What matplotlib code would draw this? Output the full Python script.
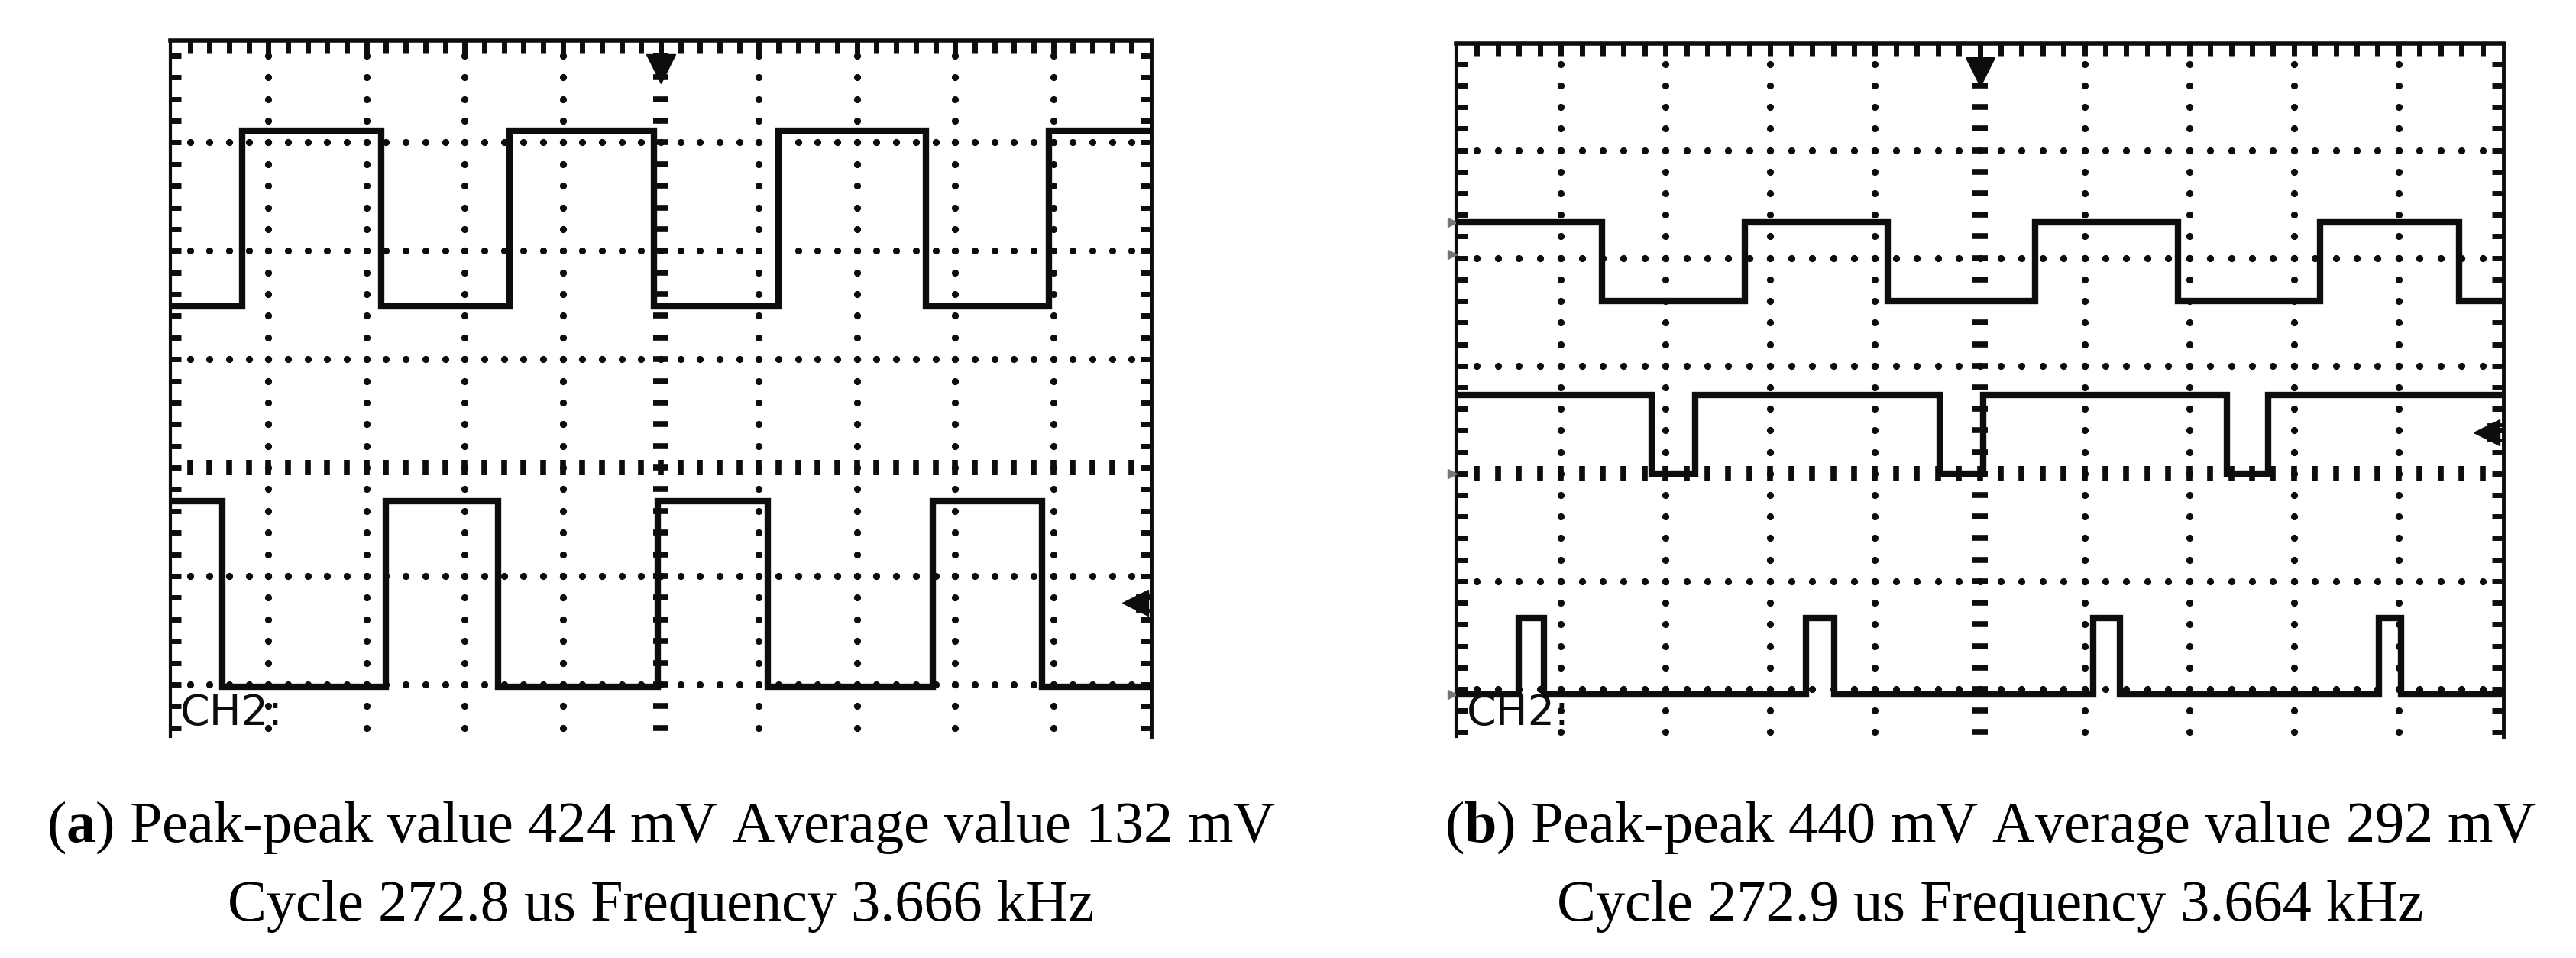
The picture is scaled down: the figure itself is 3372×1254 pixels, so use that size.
"""
Two oscilloscope screenshots (square wave traces) redrawn with matplotlib.
"""
import numpy as np
import matplotlib

matplotlib.use("Agg")
import matplotlib.pyplot as plt

plt.rcParams["font.family"] = ["Liberation Serif", "DejaVu Serif"]
plt.rcParams["mathtext.fontset"] = "custom"
plt.rcParams["mathtext.rm"] = "Liberation Serif"
plt.rcParams["mathtext.bf"] = "Liberation Serif:bold"

# ---- data, in scope divisions (x: 0..10, y: 0 = centre line) ----
# panel (a)
A_CH1_EDGES = [0.73, 2.15, 3.46, 4.93, 6.20, 7.70, 8.96]
A_CH1_LEVELS = [1.49, 3.11]  # start level first, then the other one
A_CH2_EDGES = [0.53, 2.20, 3.34, 4.97, 6.09, 7.77, 8.89]
A_CH2_LEVELS = [-0.31, -2.02]

# panel (b)
B_TR1_EDGES = [1.39, 2.76, 4.12, 5.53, 6.89, 8.25, 9.58]
B_TR1_LEVELS = [2.33, 1.60]
B_TR2_EDGES = [1.87, 2.28, 4.62, 5.03, 7.36, 7.75]
B_TR2_LEVELS = [0.73, 0.0]
B_TR3_EDGES = [0.60, 0.84, 3.34, 3.61, 6.08, 6.34, 8.81, 9.02]
B_TR3_LEVELS = [-2.05, -1.34]

B_LEFT_MARKS = [2.33, 2.03, 0.0, -2.05]

CAPTION_A = [r"($\mathbf{a}$) Peak-peak value 424 mV Average value 132 mV",
             "Cycle 272.8 us Frequency 3.666 kHz"]
CAPTION_B = [r"($\mathbf{b}$) Peak-peak 440 mV Average value 292 mV",
             "Cycle 272.9 us Frequency 3.664 kHz"]

W, H = 3372, 1254
INK = "#0d0d0d"


def trace(ax, edges, levels, lw=6):
    """Draw a square-wave trace from its edge positions."""
    xs = [0.0] + list(edges) + [10.0]
    ys = [levels[i % 2] for i in range(len(edges) + 1)]
    ys.append(ys[-1])
    ax.plot(xs, ys, drawstyle="steps-post", color=INK, lw=lw,
            solid_joinstyle="miter", zorder=5)


def graticule(ax, ymin, ymax):
    """Dotted scope grid, centre cross with ticks, framed top/left/right."""
    ax.set_xlim(0, 10)
    ax.set_ylim(ymin, ymax)
    ax.axis("off")

    step = 0.2
    xs = np.arange(step, 10 - 1e-6, step)
    ys = np.arange(np.ceil(ymin / step) * step, ymax, step)

    # dotted horizontal lines
    for gy in range(int(np.ceil(ymin)), int(np.floor(ymax)) + 1):
        if gy == 0:
            continue
        ax.plot(xs, np.full_like(xs, gy), ls="none", marker="o",
                ms=5.6, color=INK, zorder=2)
    # dotted vertical lines
    for gx in range(1, 10):
        if gx == 5:
            continue
        ax.plot(np.full_like(ys, gx), ys, ls="none", marker="o",
                ms=5.6, color=INK, zorder=2)

    # centre cross: short dashes
    ax.plot(xs, np.zeros_like(xs), ls="none", marker="|", ms=15, mew=5.5,
            color=INK, zorder=2)
    ax.plot(np.full_like(ys, 5), ys, ls="none", marker="_", ms=15, mew=5.5,
            color=INK, zorder=2)

    # frame: top, left and right (bottom is cut off in the photo)
    ax.plot([0, 10], [ymax, ymax], color=INK, lw=4, clip_on=False)
    ax.plot([0, 0], [ymin, ymax], color=INK, lw=3, clip_on=False)
    ax.plot([10, 10], [ymin, ymax], color=INK, lw=3.5, clip_on=False)
    ax.plot(xs, np.full_like(xs, ymax - 0.06), ls="none", marker="|",
            ms=12, mew=5, color=INK, clip_on=False)
    ax.plot(np.full_like(ys, 0.05), ys, ls="none", marker="_",
            ms=12, mew=5, color=INK, clip_on=False)
    ax.plot(np.full_like(ys, 9.95), ys, ls="none", marker="_",
            ms=12, mew=5, color=INK, clip_on=False)

    # trigger arrow at the top
    ax.plot([5, 5], [ymax, ymax - 0.2], color=INK, lw=5)
    ax.plot([5], [ymax - 0.26], marker="v", ms=27, color=INK)

    # CH2 read-out
    ax.text(0.1, ymin + 0.02, "CH2:", fontsize=40, color=INK,
            family=["Liberation Sans Narrow", "DejaVu Sans"],
            ha="left", va="bottom")


def right_arrow(ax, y):
    ax.plot([9.84], [y], marker="<", ms=24, color=INK, clip_on=False)
    ax.plot([9.86, 10], [y + 0.07, y + 0.07], color=INK, lw=3.5)
    ax.plot([9.86, 10], [y - 0.07, y - 0.07], color=INK, lw=3.5)


fig = plt.figure(figsize=(W / 100, H / 100), dpi=100)

# panel (a)
ax_a = fig.add_axes([223 / W, (H - 964) / H, (1507 - 223) / W, (964 - 53) / H])
graticule(ax_a, -2.48, 3.94)
trace(ax_a, A_CH1_EDGES, A_CH1_LEVELS)
trace(ax_a, A_CH2_EDGES, A_CH2_LEVELS)
right_arrow(ax_a, -1.25)

# panel (b)
ax_b = fig.add_axes([1906 / W, (H - 964) / H, (3277 - 1906) / W, (964 - 57) / H])
graticule(ax_b, -2.44, 3.99)
trace(ax_b, B_TR1_EDGES, B_TR1_LEVELS)
trace(ax_b, B_TR2_EDGES, B_TR2_LEVELS)
trace(ax_b, B_TR3_EDGES, B_TR3_LEVELS)
right_arrow(ax_b, 0.38)
ax_b.plot(np.full(len(B_LEFT_MARKS), -0.04), B_LEFT_MARKS, ls="none",
          marker=">", ms=8, color="#777777", clip_on=False)

# captions
for cx, lines in [(865, CAPTION_A), (2605, CAPTION_B)]:
    fig.text(cx / W, (H - 1102) / H, lines[0], fontsize=55, ha="center",
             va="baseline", color="black")
    fig.text(cx / W, (H - 1205) / H, lines[1], fontsize=55, ha="center",
             va="baseline", color="black")

fig.savefig("out.png", dpi=100, facecolor="white")
